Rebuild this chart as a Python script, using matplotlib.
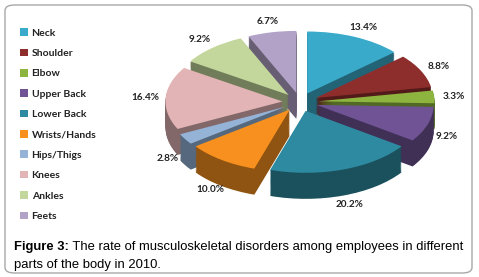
import matplotlib
matplotlib.use("Agg")
import matplotlib.pyplot as plt
from matplotlib.patches import FancyBboxPatch
import numpy as np

parts = ["Neck", "Shoulder", "Elbow", "Upper Back", "Lower Back",
         "Wrists/Hands", "Hips/Thigs", "Knees", "Ankles", "Feets"]
rates = [13.4, 8.8, 3.3, 9.2, 20.2, 10.0, 2.8, 16.4, 9.2, 6.7]
top_colors = ["#3aaacb", "#8e2e2c", "#8db43f", "#6f5394", "#2e8aa0",
              "#f7901e", "#95b3d7", "#e2b4b5", "#c3d69b", "#b3a2c7"]

W, H = 479, 277
fig = plt.figure(figsize=(W / 100, H / 100), dpi=100)
ax = fig.add_axes([0, 0, 1, 1])

# pixel mapping: pie centre at (300, 102) px, 117 px/unit across, 62 px/unit down
cx, cy, sx, sy = 300, 102, 117, 62

explode = [0.15] * len(rates)
depth = 0.42
side_colors = [tuple(np.array(matplotlib.colors.to_rgb(c)) * 0.58) for c in top_colors]

# extruded sides, stacked from the bottom up
n_layers = 24
for k in range(n_layers, 0, -1):
    ax.pie(rates, explode=explode, colors=side_colors, startangle=90,
           counterclock=False, center=(0, -depth * k / n_layers), frame=True,
           wedgeprops=dict(linewidth=0))

wedges, texts, autotexts = ax.pie(
    rates, explode=explode, colors=top_colors, startangle=90,
    counterclock=False, frame=True, autopct="%.1f%%", pctdistance=1.17,
    wedgeprops=dict(linewidth=0),
    textprops=dict(family="Lato", weight="bold", size=7.2, color="#222222"))

ax.set_aspect("auto")
ax.set_xlim((0 - cx) / sx, (W - cx) / sx)
ax.set_ylim((cy - H) / sy, cy / sy)
ax.axis("off")

for t in autotexts:
    x, y = t.get_position()
    if y < 0:
        t.set_position((x, y - depth * min(1, -y / 1.3)))

leg = ax.legend(wedges, parts, loc="upper left", bbox_to_anchor=(16 / W, 1 - 24 / H),
                frameon=False, handlelength=0.75, handleheight=0.75,
                handletextpad=0.35, labelspacing=1.05, borderaxespad=0,
                prop=dict(family="Lato", weight="bold", size=7.5))
for txt in leg.get_texts():
    txt.set_color("#222222")

border = FancyBboxPatch((5 / W, 4 / H), 467 / W, 268 / H,
                        boxstyle="round,pad=0,rounding_size=0.02",
                        transform=fig.transFigure, facecolor="none",
                        edgecolor="#a8a8a8", linewidth=1.0)
fig.patches.append(border)

cap1 = fig.text(14 / W, 1 - 250 / H, "Figure 3:", family="Liberation Sans",
                weight="bold", size=9.4, va="baseline")
ax.annotate(" The rate of musculoskeletal disorders among employees in different",
            xy=(1, 0), xycoords=cap1, va="bottom", ha="left",
            family="Liberation Sans", size=9.4, annotation_clip=False)
fig.text(14 / W, 1 - 268 / H, "parts of the body in 2010.",
         family="Liberation Sans", size=9.4, va="baseline")

fig.savefig("out.png", dpi=100)
